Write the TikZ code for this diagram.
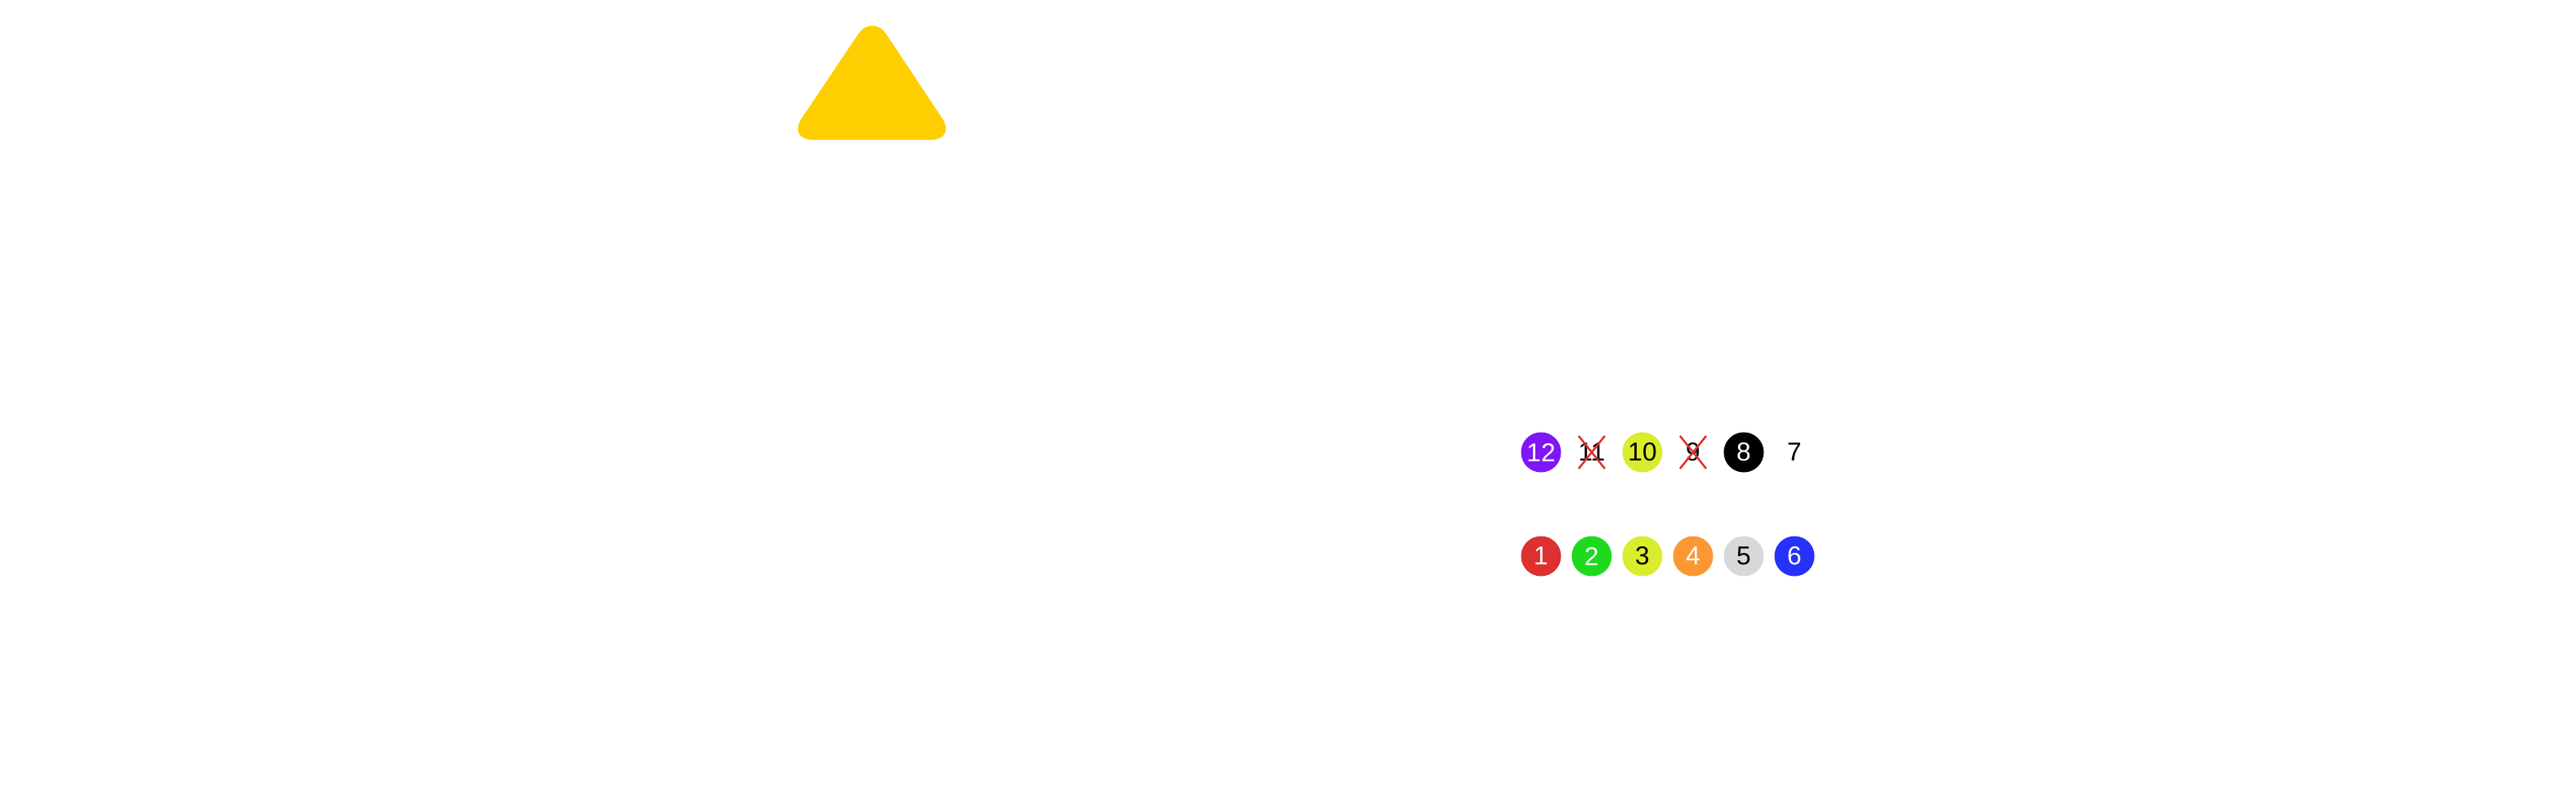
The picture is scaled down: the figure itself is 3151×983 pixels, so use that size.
\documentclass[tikz,border=0pt]{standalone}
\usepackage{fontspec}
\setmainfont{Liberation Sans}
\usetikzlibrary{positioning}
\definecolor{ballred}{RGB}{221,48,48}
\definecolor{ballgreen}{RGB}{30,218,30}
\definecolor{ballyellow}{RGB}{218,236,46}
\definecolor{ballorange}{RGB}{252,152,52}
\definecolor{ballgray}{RGB}{216,216,218}
\definecolor{ballblue}{RGB}{38,50,250}
\definecolor{ballpurple}{RGB}{128,22,246}
\definecolor{warnyellow}{RGB}{254,206,0}
\begin{document}
\begin{tikzpicture}[
    x=0.01cm, y=-0.01cm,
    ball/.style={circle, minimum size=0.49cm, inner sep=0pt, font=\fontsize{9}{10}\selectfont},
    gone/.style={draw=ballred, line width=0.7pt}
]
\useasboundingbox (0,0) rectangle (3151,983);

% === WARNING TRIANGLE ===
\fill[warnyellow, rounded corners=9pt] (1067,16) -- (1170,171) -- (963,171) -- cycle;

% === TOP ROW ===
\node[ball, fill=ballpurple, text=white] (b12) at (1885,553) {12};
\node[ball] (b11) at (1947,553) {11};
\node[ball, fill=ballyellow] (b10) at (2009,553) {10};
\node[ball] (b9) at (2071,553) {9};
\node[ball, fill=black, text=white] (b8) at (2133,553) {8};
\node[ball] (b7) at (2195,553) {7};

% crossed out
\foreach \n in {b11,b9}{
  \draw[gone] ([shift={(-16,-20)}]\n.center) -- ([shift={(16,20)}]\n.center);
  \draw[gone] ([shift={(16,-20)}]\n.center) -- ([shift={(-16,20)}]\n.center);
}

% === BOTTOM ROW ===
\node[ball, fill=ballred, text=white] (b1) at (1885,680) {1};
\node[ball, fill=ballgreen, text=white] (b2) at (1947,680) {2};
\node[ball, fill=ballyellow] (b3) at (2009,680) {3};
\node[ball, fill=ballorange, text=white] (b4) at (2071,680) {4};
\node[ball, fill=ballgray] (b5) at (2133,680) {5};
\node[ball, fill=ballblue, text=white] (b6) at (2195,680) {6};

\end{tikzpicture}
\end{document}
